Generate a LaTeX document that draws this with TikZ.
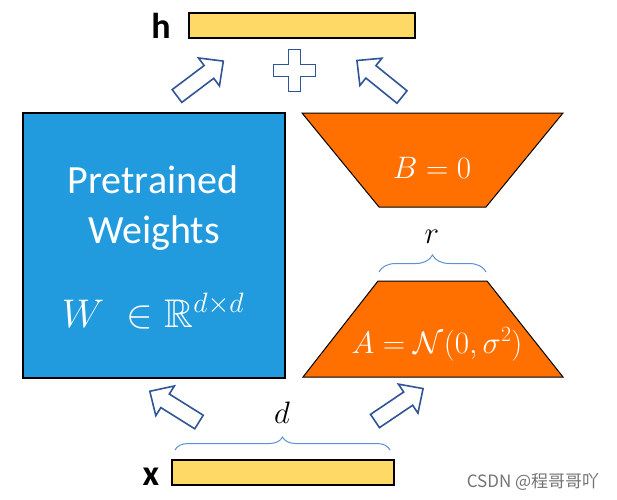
\RequirePackage{fix-cm}
\documentclass[tikz,border=0pt]{standalone}
\usepackage[no-math]{fontspec}
\usepackage{amssymb}
\setmainfont{Carlito}
\newfontfamily\cjkfont{Noto Sans CJK SC}
\usetikzlibrary{decorations.pathreplacing}

\definecolor{wblue}{RGB}{33,155,222}
\definecolor{lorange}{RGB}{255,112,0}
\definecolor{vecyellow}{RGB}{255,217,102}
\definecolor{arrowblue}{RGB}{47,85,151}
\definecolor{braceblue}{RGB}{91,145,213}

\begin{document}
\begin{tikzpicture}[x=1pt, y=-1pt,
  vecbar/.style={draw, fill=vecyellow, line width=1.2pt, minimum height=25pt, inner sep=0pt},
  veclabel/.style={font=\fontsize{36}{36}\selectfont\bfseries},
  wtext/.style={text=white, anchor=base, inner sep=0pt, font=\fontsize{40}{40}\selectfont},
  mattext/.style={text=white, anchor=base, inner sep=0pt, font=\fontsize{31}{31}\selectfont},
  dimtext/.style={anchor=base, inner sep=0pt, font=\fontsize{31}{31}\selectfont},
  dimbrace/.style={draw=braceblue, line width=1pt, decorate, decoration={brace, amplitude=#1}},
  blockarrow/.pic={
    \draw[arrowblue, fill=white, line width=1.6pt, line join=miter]
      (0,-8) -- (40,-8) -- (40,-17.5) -- (58,0) -- (40,17.5) -- (40,8) -- (0,8) -- cycle;
  }
]
\useasboundingbox (0,0) rectangle (617,499);

% output and input vectors
\node[vecbar, minimum width=226pt] (hbar) at (302,25.5) {};
\node[veclabel] (hlabel) at (161,26) {h};
\node[vecbar, minimum width=222pt] (xbar) at (283,472.5) {};
\node[veclabel] (xlabel) at (151,477) {x};

% pretrained weights
\node[draw, fill=wblue, line width=1.2pt, minimum width=262pt, minimum height=265pt] (weights) at (154,245.5) {};
\node[wtext] (pretrained) at (153,193) {Pretrained};
\node[wtext] (wname) at (154,243) {Weights};
\node[wtext] (wmath) at (153,327) {$W\;\in\mathbb{R}^{d\times d}$};

% low rank matrices
\draw[fill=lorange, line width=1pt] (302,113) -- (563,113) -- (486,207) -- (379,207) -- cycle;
\node[mattext] (bmat) at (432,178) {$B=0$};
\draw[fill=lorange, line width=1pt] (378,281) -- (487,281) -- (563,377) -- (303,377) -- cycle;
\node[mattext] (amat) at (437,353) {$A=\mathcal{N}(0,\sigma^2)$};

% dimensions
\draw[dimbrace=17pt] (379,272) -- (486,272);
\node[dimtext] (rdim) at (432,243) {$r$};
\draw[dimbrace=13pt] (175,450) -- (390,450);
\node[dimtext] (ddim) at (282,423) {$d$};

% sum
\draw[arrowblue, fill=white, line width=1.6pt]
  (288.5,49.5) -- (300.5,49.5) -- (300.5,64.5) -- (315.5,64.5) -- (315.5,76.5) -- (300.5,76.5)
  -- (300.5,91.5) -- (288.5,91.5) -- (288.5,76.5) -- (273.5,76.5) -- (273.5,64.5) -- (288.5,64.5) -- cycle;

% block arrows
\pic[rotate=37] at (177,96) {blockarrow};
\pic[rotate=141] at (402,97) {blockarrow};
\pic[rotate=148] at (199,422) {blockarrow};
\pic[rotate=34] at (375,421) {blockarrow};

\node[anchor=base, text=black!55, inner sep=0pt, font=\fontsize{17}{17}\selectfont\cjkfont] (mark) at (533,487) {CSDN @程哥哥吖};
\end{tikzpicture}
\end{document}
